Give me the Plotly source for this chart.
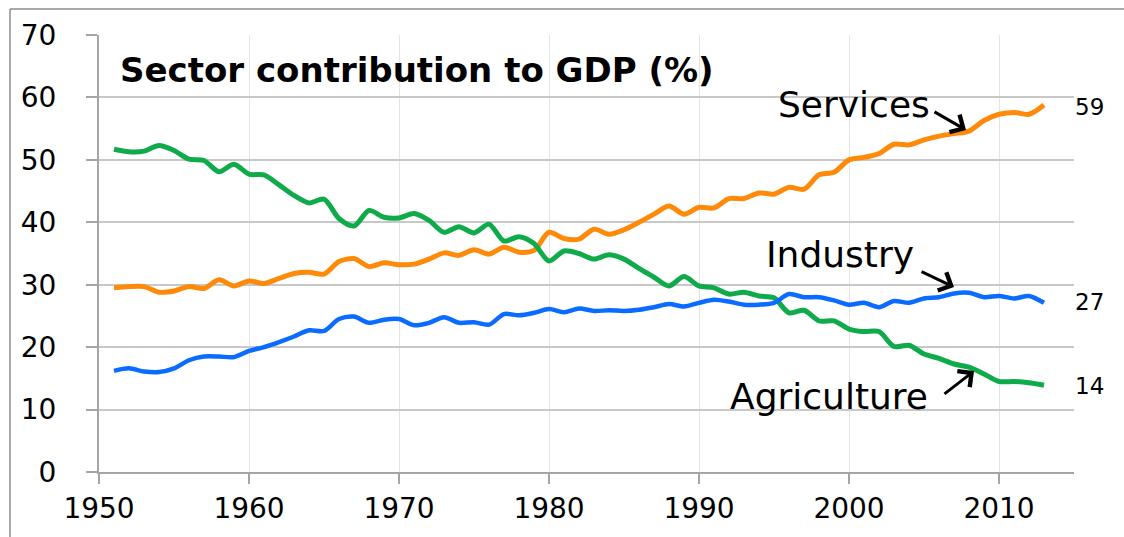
import plotly.graph_objects as go

years = list(range(1951, 2014))
agriculture = [51.7, 51.3, 51.4, 52.3, 51.5, 50.1, 49.9, 48.1, 49.3, 47.7,
               47.6, 46.0, 44.3, 43.1, 43.7, 40.6, 39.4, 41.9, 40.8, 40.7,
               41.4, 40.3, 38.4, 39.3, 38.3, 39.7, 37.0, 37.7, 36.6, 33.8,
               35.4, 35.0, 34.1, 34.8, 34.1, 32.6, 31.2, 29.8, 31.3, 29.8,
               29.5, 28.5, 28.8, 28.2, 27.9, 25.5, 25.9, 24.2, 24.2, 22.9,
               22.5, 22.5, 20.1, 20.3, 18.9, 18.2, 17.3, 16.8, 15.7, 14.5,
               14.5, 14.3, 13.9]
industry = [16.2, 16.6, 16.1, 16.0, 16.6, 17.9, 18.5, 18.5, 18.4, 19.4,
            20.0, 20.8, 21.7, 22.7, 22.6, 24.5, 24.9, 23.9, 24.4, 24.5,
            23.5, 23.9, 24.8, 23.9, 24.0, 23.6, 25.3, 25.1, 25.5, 26.1,
            25.6, 26.2, 25.8, 25.9, 25.8, 26.0, 26.4, 26.9, 26.5, 27.1,
            27.6, 27.3, 26.8, 26.8, 27.1, 28.5, 28.0, 28.0, 27.5, 26.8,
            27.1, 26.4, 27.4, 27.1, 27.8, 28.0, 28.6, 28.7, 28.0, 28.2,
            27.8, 28.2, 27.1]
services = [29.5, 29.7, 29.7, 28.8, 29.0, 29.7, 29.4, 30.8, 29.8, 30.6,
            30.2, 31.0, 31.8, 32.0, 31.7, 33.7, 34.2, 32.9, 33.5, 33.2,
            33.3, 34.1, 35.1, 34.7, 35.6, 34.9, 36.0, 35.2, 35.5, 38.4,
            37.4, 37.3, 38.9, 38.1, 38.8, 40.0, 41.3, 42.6, 41.3, 42.4,
            42.3, 43.8, 43.8, 44.7, 44.5, 45.6, 45.3, 47.6, 48.0, 50.0,
            50.4, 51.0, 52.5, 52.4, 53.2, 53.8, 54.2, 54.6, 56.3, 57.3,
            57.6, 57.3, 58.8]

x_ticks = [1950, 1960, 1970, 1980, 1990, 2000, 2010]
y_ticks = [0, 10, 20, 30, 40, 50, 60, 70]
title_text = "Sector contribution to GDP (%)"
series_names = ["Agriculture", "Industry", "Services"]
end_labels = ["14", "27", "59"]

GREEN = "#0FAA4A"
BLUE = "#0A6CFF"
ORANGE = "#FF8A0A"
FONT = "DejaVu Sans"

fig = go.Figure()
for vals, col, name, w in [(services, ORANGE, series_names[2], 5),
                           (agriculture, GREEN, series_names[0], 5),
                           (industry, BLUE, series_names[1], 4.5)]:
    fig.add_trace(go.Scatter(x=years, y=vals, mode="lines", name=name,
                             line=dict(color=col, width=w, shape="spline", smoothing=0.8),
                             showlegend=False, hoverinfo="x+y"))

FW, FH = 1124, 537
L, T, W, H = 99, 35, 975, 437
def px(xp):
    return (xp - L) / W
def py(yp):
    return (T + H - yp) / H

annotations = [
    dict(text="<b>" + title_text + "</b>", xref="paper", yref="paper",
         x=px(118), y=py(70), xanchor="left", yanchor="middle", showarrow=False,
         font=dict(family=FONT, size=34, color="black")),
    dict(text=series_names[2], xref="paper", yref="paper", x=px(854), y=py(104),
         xanchor="center", yanchor="middle", showarrow=False,
         font=dict(family=FONT, size=36, color="black")),
    dict(text=series_names[1], xref="paper", yref="paper", x=px(840), y=py(255),
         xanchor="center", yanchor="middle", showarrow=False,
         font=dict(family=FONT, size=36, color="black")),
    dict(text=series_names[0], xref="paper", yref="paper", x=px(829), y=py(396),
         xanchor="center", yanchor="middle", showarrow=False,
         font=dict(family=FONT, size=36, color="black")),
]
for lab, yy in zip(end_labels, [386, 302, 107]):
    annotations.append(dict(text=lab, xref="paper", yref="paper", x=px(1089), y=py(yy),
                            xanchor="center", yanchor="middle", showarrow=False,
                            font=dict(family=FONT, size=23, color="black")))
# arrows
for (hx, hy, tx, ty) in [(966, 130, 933, 111), (954, 287, 920, 271), (974, 371, 943, 395)]:
    annotations.append(dict(text="", xref="paper", yref="paper", x=px(hx), y=py(hy),
                            ax=tx - hx, ay=ty - hy, showarrow=True, arrowhead=4,
                            arrowsize=1.3, arrowwidth=3, arrowcolor="black", standoff=0))

border = dict(color="#8C8C8C", width=1.5)
fig.update_layout(
    width=FW, height=FH,
    margin=dict(l=L, r=FW - L - W, t=T, b=FH - T - H, autoexpand=False),
    paper_bgcolor="white", plot_bgcolor="white",
    font=dict(family=FONT, color="black"),
    showlegend=False,
    annotations=annotations,
    shapes=[dict(type="line", xref="paper", yref="paper",
                 x0=px(10), y0=py(9), x1=px(1200), y1=py(9), line=border, layer="below"),
            dict(type="line", xref="paper", yref="paper",
                 x0=px(10), y0=py(9), x1=px(10), y1=py(600), line=border, layer="below")],
)
fig.update_xaxes(range=[1950, 2015], tickvals=x_ticks, ticktext=[str(v) for v in x_ticks],
                 showgrid=True, gridcolor="#E4E4E4", gridwidth=1,
                 showline=True, linecolor="#A6A6A6", linewidth=2,
                 ticks="outside", ticklen=10, tickcolor="#A6A6A6", tickwidth=1.5,
                 tickfont=dict(family=FONT, size=28, color="black"),
                 ticklabelstandoff=0, zeroline=False, automargin=False)
fig.update_yaxes(range=[0, 70], tickvals=y_ticks,
                 showgrid=True, gridcolor="#C8C8C8", gridwidth=1.5,
                 showline=True, linecolor="#A6A6A6", linewidth=2,
                 ticks="outside", ticklen=11, tickcolor="#A6A6A6", tickwidth=1.5,
                 tickfont=dict(family=FONT, size=28, color="black"),
                 ticklabelstandoff=24, zeroline=False, automargin=False)

fig.write_html("out.html", config={"displayModeBar": False},
               post_script="document.body.style.margin='0';document.body.style.overflow='hidden';")
